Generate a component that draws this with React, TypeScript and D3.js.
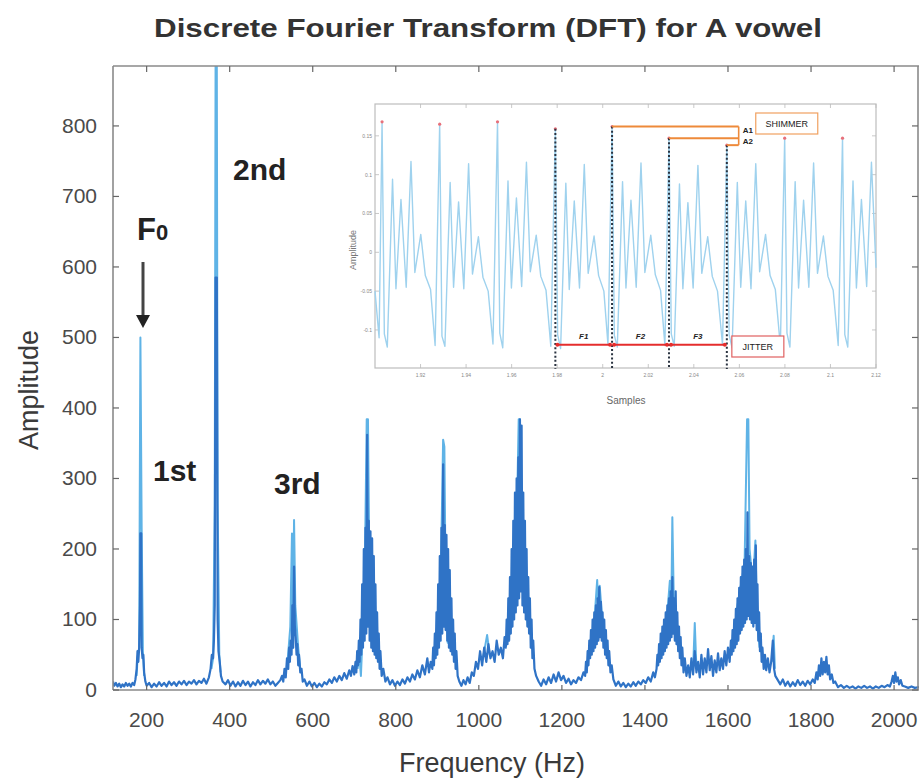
import React from "react";
import * as d3 from "d3";

const W = 919;
const H = 780;

// main chart ticks
const xTicks = [200, 400, 600, 800, 1000, 1200, 1400, 1600, 1800, 2000];
const yTicks = [0, 100, 200, 300, 400, 500, 600, 700, 800];

// light blue trace: the spikes that stick out of the dense part, one group per harmonic
const lightSpikes: [number, number][][] = [
  [[176, 20], [178, 45], [182, 60], [185, 500], [188, 230], [191, 55], [194, 20]],
  [[356, 30], [360, 45], [364, 263], [366, 885], [369, 885], [371, 263], [375, 50], [378, 25]],
  [[538, 30], [546, 90], [550, 222], [552, 60], [555, 241], [558, 120], [565, 60], [570, 30]],
  [[708, 30], [712, 52], [716, 20], [725, 150], [730, 384], [733, 384], [736, 200], [745, 90], [752, 50]],
  [[900, 60], [908, 150], [914, 355], [917, 345], [920, 150], [925, 67], [935, 80], [940, 50]],
  [[1010, 45], [1020, 78], [1026, 50]],
  [[1080, 120], [1090, 200], [1096, 384], [1099, 384], [1102, 200], [1110, 150], [1118, 90]],
  [[1275, 70], [1285, 156], [1288, 110], [1291, 148], [1300, 80]],
  [[1450, 80], [1460, 155], [1463, 90], [1466, 245], [1470, 110], [1480, 60]],
  [[1516, 30], [1520, 95], [1524, 30]],
  [[1620, 110], [1640, 180], [1646, 384], [1649, 384], [1652, 200], [1660, 150], [1666, 212], [1670, 100], [1676, 60]],
  [[1706, 40], [1710, 77], [1713, 30]],
];

// dark blue trace (dense part of the spectrum)
const darkSeries: [number, number][] = [
  [119, 12], [122, 6], [126, 10], [130, 5], [134, 9], [138, 4], [142, 8], [146, 5], [150, 10], [154, 6], [158, 9], [162, 5], [166, 10], [170, 7],
  [173, 15], [176, 30], [178, 55], [180, 40], [182, 60], [184, 120], [185, 222], [187, 222], [188, 60], [190, 45], [192, 50], [194, 25], [197, 12], [200, 6],
  [206, 10], [212, 4], [218, 9], [224, 5], [230, 11], [236, 6], [242, 10], [248, 5], [254, 12], [260, 7], [266, 11], [272, 6], [278, 12], [284, 8],
  [290, 13], [296, 7], [302, 12], [308, 9], [314, 14], [320, 8], [326, 13], [332, 10], [338, 16], [344, 9], [350, 18],
  [354, 30], [357, 50], [360, 45], [362, 70], [364, 120], [366, 585], [369, 585], [371, 100], [373, 55], [376, 40], [379, 20], [383, 12],
  [390, 8], [396, 14], [402, 6], [408, 12], [414, 5], [420, 11], [426, 6], [432, 13], [438, 7], [444, 12], [450, 5], [456, 11],
  [462, 7], [468, 14], [474, 8], [480, 13], [486, 9], [492, 15], [498, 8], [504, 12], [510, 6], [516, 10], [522, 14],
  [526, 20], [529, 12], [532, 30], [535, 18], [538, 45], [541, 30], [543, 60], [545, 40], [547, 70], [549, 50], [551, 120], [553, 60],
  [555, 175], [557, 90], [559, 75], [561, 50], [563, 65], [565, 35], [567, 50], [570, 25], [573, 30], [576, 12], [580, 15],
  [586, 6], [592, 12], [598, 5], [604, 10], [610, 4], [616, 9], [622, 5], [628, 11], [634, 8], [640, 15], [646, 10], [652, 18],
  [658, 12], [664, 20], [670, 14], [676, 24], [682, 16], [688, 28], [692, 20], [696, 34], [700, 22],
  [703, 40], [705, 25], [707, 55], [709, 35], [711, 70], [713, 40], [715, 100], [717, 50], [719, 150], [721, 60], [723, 200], [725, 70],
  [727, 230], [729, 80], [731, 362], [733, 90], [735, 240], [737, 70], [739, 225], [741, 60], [743, 215], [745, 55], [747, 190], [749, 50],
  [751, 150], [753, 45], [755, 110], [757, 40], [759, 80], [761, 30], [763, 55], [766, 20], [770, 30],
  [775, 12], [780, 18], [786, 8], [792, 14], [798, 6], [804, 12], [810, 7], [816, 15], [822, 9], [828, 18], [834, 12], [840, 22],
  [846, 15], [852, 28], [858, 18], [864, 35], [870, 22], [876, 45], [880, 25], [884, 40],
  [888, 30], [890, 60], [892, 35], [894, 80], [896, 45], [898, 110], [900, 50], [902, 150], [904, 60], [906, 190], [908, 70], [910, 230],
  [912, 80], [914, 320], [916, 90], [918, 234], [920, 85], [922, 220], [924, 70], [926, 200], [928, 60], [930, 170], [932, 55], [934, 130],
  [936, 50], [938, 100], [940, 40], [942, 80], [944, 30], [946, 55], [949, 20],
  [953, 12], [958, 6], [963, 14], [968, 8], [973, 18], [978, 10], [983, 25], [988, 20], [993, 40], [998, 30], [1003, 55], [1008, 35],
  [1013, 60], [1018, 40], [1023, 65], [1028, 45], [1033, 55], [1038, 40], [1043, 70], [1048, 50], [1053, 60], [1058, 45], [1062, 75],
  [1065, 60], [1067, 100], [1069, 65], [1071, 130], [1073, 70], [1075, 160], [1077, 80], [1079, 200], [1081, 90], [1083, 240], [1085, 100],
  [1087, 280], [1089, 110], [1091, 300], [1093, 120], [1095, 330], [1097, 130], [1099, 384], [1101, 140], [1103, 375], [1105, 120],
  [1107, 280], [1109, 110], [1111, 240], [1113, 100], [1115, 200], [1117, 90], [1119, 160], [1121, 80], [1123, 130], [1125, 60],
  [1127, 100], [1129, 45], [1131, 70], [1134, 30], [1138, 20],
  [1144, 12], [1150, 6], [1156, 15], [1162, 8], [1168, 18], [1174, 10], [1180, 22], [1186, 12], [1192, 25], [1198, 14], [1204, 20],
  [1210, 10], [1216, 16], [1222, 8], [1228, 14], [1234, 10], [1240, 18], [1246, 14], [1252, 25],
  [1256, 20], [1258, 40], [1260, 25], [1262, 55], [1264, 35], [1266, 70], [1268, 45], [1270, 85], [1272, 50], [1274, 100], [1276, 55],
  [1278, 110], [1280, 60], [1282, 120], [1284, 65], [1286, 130], [1288, 70], [1290, 146], [1292, 75], [1294, 125], [1296, 70], [1298, 110],
  [1300, 60], [1302, 100], [1304, 50], [1306, 85], [1308, 45], [1310, 70], [1312, 35], [1314, 55], [1317, 25], [1320, 35], [1324, 15],
  [1330, 6], [1336, 12], [1342, 5], [1348, 10], [1354, 4], [1360, 9], [1366, 5], [1372, 11], [1378, 6], [1384, 12], [1390, 8],
  [1396, 14], [1402, 10], [1408, 18], [1414, 12], [1420, 25], [1424, 18],
  [1428, 30], [1430, 50], [1432, 35], [1434, 65], [1436, 40], [1438, 80], [1440, 45], [1442, 90], [1444, 50], [1446, 100], [1448, 55],
  [1450, 110], [1452, 60], [1454, 120], [1456, 65], [1458, 130], [1460, 70], [1462, 140], [1464, 75], [1466, 160], [1468, 80],
  [1470, 130], [1472, 70], [1474, 140], [1476, 65], [1478, 110], [1480, 55], [1482, 90], [1484, 45], [1486, 75], [1488, 35], [1490, 60],
  [1493, 25], [1496, 45], [1500, 20],
  [1504, 35], [1508, 18], [1512, 45], [1516, 22], [1520, 55], [1524, 25], [1528, 40], [1532, 18], [1536, 50], [1540, 22], [1544, 45],
  [1548, 25], [1552, 58], [1556, 28], [1560, 48], [1564, 20], [1568, 42], [1572, 25], [1576, 52], [1580, 28], [1584, 45], [1588, 30],
  [1592, 55], [1596, 35], [1600, 60], [1604, 40],
  [1607, 70], [1609, 50], [1611, 85], [1613, 55], [1615, 100], [1617, 60], [1619, 115], [1621, 65], [1623, 130], [1625, 70], [1627, 145],
  [1629, 80], [1631, 160], [1633, 85], [1635, 175], [1637, 90], [1639, 185], [1641, 95], [1643, 200], [1645, 100], [1647, 252], [1649, 105],
  [1651, 190], [1653, 100], [1655, 180], [1657, 95], [1659, 175], [1661, 90], [1663, 185], [1665, 95], [1667, 205], [1669, 85], [1671, 150],
  [1673, 70], [1675, 110], [1677, 55], [1679, 80], [1681, 40], [1683, 60], [1686, 30], [1689, 50], [1692, 28], [1696, 45], [1700, 25],
  [1704, 40], [1708, 70], [1711, 30], [1714, 20],
  [1720, 14], [1726, 8], [1732, 15], [1738, 6], [1744, 12], [1750, 5], [1756, 11], [1762, 6], [1768, 14], [1774, 7], [1780, 12],
  [1786, 6], [1792, 13], [1798, 8], [1804, 15], [1809, 10],
  [1813, 25], [1816, 15], [1819, 35], [1822, 20], [1825, 45], [1828, 22], [1831, 40], [1834, 25], [1837, 47], [1840, 22], [1843, 35],
  [1846, 15], [1850, 22], [1854, 10], [1858, 12],
  [1865, 4], [1872, 7], [1879, 3], [1886, 6], [1893, 3], [1900, 5], [1907, 2], [1914, 5], [1921, 3], [1928, 6], [1935, 3], [1942, 5],
  [1949, 2], [1956, 5], [1963, 3], [1970, 6], [1977, 4], [1984, 7], [1990, 5],
  [1994, 12], [1997, 20], [2000, 10], [2003, 25], [2006, 12], [2009, 18], [2012, 8], [2016, 14], [2020, 6], [2026, 5], [2034, 3],
  [2042, 5], [2050, 3], [2060, 4],
];

// inset: time-domain waveform
const insetXTicks = [1.92, 1.94, 1.96, 1.98, 2, 2.02, 2.04, 2.06, 2.08, 2.1, 2.12];
const insetYTicks = [-0.1, -0.05, 0, 0.05, 0.1, 0.15];
const insetWave: [number, number][] = [
  [1.9, -0.05], [1.9018, -0.11],
  [1.9031, 0.168], [1.9041, -0.105], [1.9054, -0.122], [1.9077, 0.094], [1.9092, -0.047], [1.9114, 0.068], [1.9137, -0.045], [1.9158, 0.117], [1.9175, -0.026], [1.9201, 0.023], [1.9221, -0.03], [1.9244, -0.048], [1.9264, -0.12],
  [1.9284, 0.165], [1.9294, -0.108], [1.9307, -0.121], [1.933, 0.09], [1.9345, -0.045], [1.9367, 0.065], [1.939, -0.047], [1.9411, 0.114], [1.9428, -0.028], [1.9454, 0.02], [1.9474, -0.032], [1.9497, -0.05], [1.9518, -0.118],
  [1.9538, 0.168], [1.9548, -0.104], [1.9561, -0.123], [1.9584, 0.092], [1.9599, -0.046], [1.9621, 0.07], [1.9644, -0.044], [1.9665, 0.116], [1.9682, -0.025], [1.9708, 0.022], [1.9728, -0.031], [1.9751, -0.049], [1.9772, -0.121],
  [1.9792, 0.159], [1.9802, -0.106], [1.9815, -0.124], [1.9838, 0.089], [1.9853, -0.048], [1.9875, 0.066], [1.9898, -0.046], [1.9919, 0.113], [1.9936, -0.027], [1.9962, 0.021], [1.9982, -0.03], [2.0005, -0.05], [2.0023, -0.119],
  [2.0041, 0.162], [2.0051, -0.107], [2.0064, -0.122], [2.0087, 0.091], [2.0102, -0.046], [2.0124, 0.067], [2.0147, -0.045], [2.0168, 0.115], [2.0185, -0.026], [2.0211, 0.022], [2.0231, -0.029], [2.0254, -0.049], [2.0273, -0.12],
  [2.0291, 0.147], [2.0301, -0.105], [2.0314, -0.121], [2.0337, 0.088], [2.0352, -0.047], [2.0374, 0.064], [2.0397, -0.046], [2.0418, 0.112], [2.0435, -0.027], [2.0461, 0.02], [2.0481, -0.031], [2.0504, -0.05], [2.0526, -0.119],
  [2.0545, 0.138], [2.0555, -0.106], [2.0568, -0.123], [2.0591, 0.09], [2.0606, -0.045], [2.0628, 0.066], [2.0651, -0.047], [2.0672, 0.114], [2.0689, -0.025], [2.0715, 0.023], [2.0735, -0.03], [2.0758, -0.048], [2.078, -0.121],
  [2.0799, 0.147], [2.0809, -0.104], [2.0822, -0.122], [2.0845, 0.091], [2.086, -0.046], [2.0882, 0.067], [2.0905, -0.045], [2.0926, 0.115], [2.0943, -0.027], [2.0969, 0.021], [2.0989, -0.031], [2.1012, -0.049], [2.1034, -0.12],
  [2.1053, 0.147], [2.1063, -0.106], [2.1076, -0.122], [2.1099, 0.092], [2.1114, -0.046], [2.1136, 0.068], [2.1159, -0.044], [2.118, 0.116], [2.12, -0.02],
];
const insetPeaks: [number, number][] = [
  [1.9031, 0.168], [1.9284, 0.165], [1.9538, 0.168], [1.9792, 0.159], [2.0041, 0.162],
  [2.0291, 0.147], [2.0545, 0.138], [2.0799, 0.147], [2.1053, 0.147],
];
// jitter periods (start/end of each period) and shimmer peaks
const jitterMarks = [1.9792, 2.0041, 2.0291, 2.0545];
const jitterLabels = ["F1", "F2", "F3"];
const shimmerPeaks: [number, number][] = [[2.0041, 0.162], [2.0291, 0.147], [2.0545, 0.138]];

const App = () => {
  const x = d3.scaleLinear().domain([119, 2060]).range([113, 919]);
  const y = d3.scaleLinear().domain([0, 885]).range([690, 66]);
  const line = d3
    .line<[number, number]>()
    .x((d) => x(d[0]))
    .y((d) => y(d[1]));

  // inset scales
  const ix = d3.scaleLinear().domain([1.9, 2.12]).range([375, 876]);
  const iy = d3.scaleLinear().domain([-0.149, 0.191]).range([368, 104]);
  const iline = d3
    .line<[number, number]>()
    .x((d) => ix(d[0]))
    .y((d) => iy(d[1]));

  const font = "'Liberation Sans', Arial, Helvetica, sans-serif";
  const [x0, x1] = x.range();
  const [y0, y1] = y.range();
  const jitY = iy(-0.119);
  const shimX = ix(2.0597);

  return (
    <svg
      width={W}
      height={H}
      style={{ position: "absolute", left: 0, top: 0, background: "#fff" }}
      fontFamily={font}
    >
      <defs>
        <clipPath id="plotClip">
          <rect x={x0} y={y1} width={x1 - x0} height={y0 - y1} />
        </clipPath>
      </defs>
      <rect width={W} height={H} fill="#fff" />

      {/* title */}
      <text x={488} y={37} textAnchor="middle" fontSize={26} fontWeight="bold" fill="#333"
        textLength={668} lengthAdjust="spacingAndGlyphs">
        Discrete Fourier Transform (DFT) for A vowel
      </text>

      {/* spectrum */}
      <g clipPath="url(#plotClip)">
        {lightSpikes.map((seg, i) => (
          <path key={"ls" + i} d={line(seg) ?? ""} fill="none" stroke="#5fb3e6" strokeWidth={2} strokeLinejoin="round" />
        ))}
        <path d={line(darkSeries) ?? ""} fill="none" stroke="#2f73c6" strokeWidth={2.2} strokeLinejoin="round" />
      </g>

      {/* axes box */}
      <g stroke="#8a8a8a" strokeWidth={1.6} fill="none">
        <line x1={x0} x2={x0} y1={y1} y2={y0} />
        <line x1={x0} x2={x1} y1={y1} y2={y1} />
        <line x1={x0} x2={x1} y1={y0} y2={y0} />
        <line x1={x1 - 1} x2={x1 - 1} y1={y1} y2={y0} />
      </g>
      <g stroke="#666" strokeWidth={1.2}>
        {yTicks.map((t) => (
          <g key={"yt" + t}>
            <line x1={x0} x2={x0 + 6} y1={y(t)} y2={y(t)} />
            <line x1={x1 - 7} x2={x1 - 1} y1={y(t)} y2={y(t)} />
          </g>
        ))}
        {xTicks.map((t) => (
          <g key={"xt" + t}>
            <line x1={x(t)} x2={x(t)} y1={y1} y2={y1 + 6} />
            <line x1={x(t)} x2={x(t)} y1={y0} y2={y0 - 5} />
          </g>
        ))}
      </g>
      <g fontSize={21} fill="#4a4a4a">
        {yTicks.map((t) => (
          <text key={"yl" + t} x={97} y={y(t) + 7} textAnchor="end">{t}</text>
        ))}
        {xTicks.map((t) => (
          <text key={"xl" + t} x={x(t)} y={727} textAnchor="middle">{t}</text>
        ))}
      </g>
      <text x={492} y={772} textAnchor="middle" fontSize={27} fill="#3a3a3a">Frequency (Hz)</text>
      <text transform="translate(38,390) rotate(-90)" textAnchor="middle" fontSize={27} fill="#3a3a3a">Amplitude</text>

      {/* harmonic annotations */}
      <g fontWeight="bold" fill="#222">
        <text x={137} y={240} fontSize={31}>F<tspan fontSize={22}>0</tspan></text>
        <text x={233} y={180} fontSize={30}>2nd</text>
        <text x={153} y={481} fontSize={30}>1st</text>
        <text x={274} y={494} fontSize={30}>3rd</text>
      </g>
      <line x1={143} x2={143} y1={262} y2={316} stroke="#444" strokeWidth={3} />
      <path d="M136,315 L150,315 L143,328 Z" fill="#222" />

      {/* inset */}
      <g>
        <rect x={375} y={104} width={501} height={264} fill="#fff" stroke="#bdbdbd" strokeWidth={1.2} />
        <g stroke="#bbb" strokeWidth={0.8}>
          {insetXTicks.map((t) => (
            <g key={"ixt" + t}>
              <line x1={ix(t)} x2={ix(t)} y1={368} y2={364} />
              <line x1={ix(t)} x2={ix(t)} y1={104} y2={108} />
            </g>
          ))}
          {insetYTicks.map((t) => (
            <g key={"iyt" + t}>
              <line x1={375} x2={379} y1={iy(t)} y2={iy(t)} />
              <line x1={872} x2={876} y1={iy(t)} y2={iy(t)} />
            </g>
          ))}
        </g>
        <g fontSize={5} fill="#888">
          {insetXTicks.map((t) => (
            <text key={"ixl" + t} x={ix(t)} y={377} textAnchor="middle">{t}</text>
          ))}
          {insetYTicks.map((t) => (
            <text key={"iyl" + t} x={372} y={iy(t) + 2} textAnchor="end">{t}</text>
          ))}
        </g>
        <text x={626} y={404} textAnchor="middle" fontSize={10} fill="#666">Samples</text>
        <text transform="translate(356,250) rotate(-90)" textAnchor="middle" fontSize={9} fill="#777">Amplitude</text>

        <path d={iline(insetWave) ?? ""} fill="none" stroke="#9fd2ee" strokeWidth={1.4} strokeLinejoin="round" />
        {insetPeaks.map((p, i) => (
          <circle key={"ip" + i} cx={ix(p[0])} cy={iy(p[1])} r={1.6} fill="#e8707a" />
        ))}

        {/* jitter */}
        {jitterMarks.map((t, i) => (
          <line key={"jm" + i} x1={ix(t)} x2={ix(t)} y1={iy(insetPeaks.find((p) => p[0] === t)![1])} y2={369}
            stroke="#2a3340" strokeWidth={2} strokeDasharray="2 2.2" />
        ))}
        {jitterMarks.slice(0, 3).map((t, i) => {
          const a = ix(t) + 2;
          const b = ix(jitterMarks[i + 1]) - 2;
          return (
            <g key={"jl" + i}>
              <line x1={a} x2={b} y1={jitY} y2={jitY} stroke="#e52d2d" strokeWidth={2} />
              <circle cx={a} cy={jitY} r={2} fill="#e52d2d" />
              <circle cx={b} cy={jitY} r={2} fill="#e52d2d" />
              <text x={(a + b) / 2} y={jitY - 6} textAnchor="middle" fontSize={8} fontWeight="bold" fontStyle="italic" fill="#222">
                {jitterLabels[i]}
              </text>
            </g>
          );
        })}
        <rect x={ix(2.0567)} y={336} width={52} height={21} fill="#fff" stroke="#e06060" strokeWidth={1.2} />
        <text x={ix(2.0567) + 26} y={350} textAnchor="middle" fontSize={9} fill="#222">JITTER</text>

        {/* shimmer */}
        {shimmerPeaks.map((p, i) => (
          <line key={"sh" + i} x1={ix(p[0])} x2={shimX} y1={iy(p[1])} y2={iy(p[1])} stroke="#ee8a3a" strokeWidth={2} />
        ))}
        <line x1={shimX} x2={shimX} y1={iy(shimmerPeaks[0][1])} y2={iy(shimmerPeaks[2][1])} stroke="#ee8a3a" strokeWidth={1.6} />
        <text x={shimX + 4} y={iy(shimmerPeaks[0][1]) + 6} fontSize={8} fontWeight="bold" fill="#222">A1</text>
        <text x={shimX + 4} y={iy(shimmerPeaks[1][1]) + 6} fontSize={8} fontWeight="bold" fill="#222">A2</text>
        <rect x={ix(2.0672)} y={113} width={62} height={21} fill="#fff" stroke="#f0a060" strokeWidth={1.2} />
        <text x={ix(2.0672) + 31} y={127} textAnchor="middle" fontSize={9} fill="#222">SHIMMER</text>
      </g>
    </svg>
  );
};

export default App;
